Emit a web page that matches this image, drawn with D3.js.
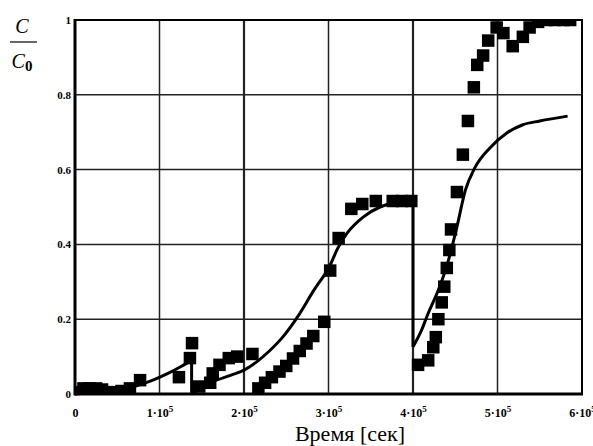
<!DOCTYPE html>
<html>
<head>
<meta charset="utf-8">
<script src="https://cdn.jsdelivr.net/npm/d3@7"></script>
<style>
body { margin: 0; background: #fff; }
svg { display: block; }
</style>
</head>
<body>
<svg id="chart" width="593" height="446"></svg>
<script>
// experiment (squares): time in seconds, C/C0
var expTime = [0.05e5, 0.1e5, 0.17e5, 0.25e5, 0.32e5, 0.45e5, 0.55e5, 0.65e5, 0.77e5, 1.23e5, 1.36e5, 1.385e5,
	1.47e5, 1.6e5, 1.63e5, 1.71e5, 1.82e5, 1.92e5, 2.1e5,
	2.17e5, 2.25e5, 2.33e5, 2.42e5, 2.5e5, 2.58e5, 2.66e5, 2.74e5, 2.82e5, 2.95e5,
	3.02e5, 3.12e5, 3.27e5, 3.4e5, 3.56e5, 3.76e5, 3.87e5, 3.98e5,
	4.06e5, 4.18e5, 4.24e5, 4.27e5, 4.3e5, 4.34e5, 4.37e5, 4.4e5, 4.43e5, 4.45e5, 4.52e5, 4.59e5,
	4.65e5, 4.72e5, 4.76e5, 4.83e5, 4.89e5, 4.99e5, 5.07e5, 5.18e5, 5.3e5, 5.38e5, 5.48e5,
	5.58e5, 5.68e5, 5.78e5, 5.86e5];
var expConc = [0.005, 0.015, 0.015, 0.015, 0.012, 0.005, 0.008, 0.015, 0.037, 0.045, 0.096, 0.136,
	0.02, 0.03, 0.055, 0.078, 0.096, 0.1, 0.107,
	0.015, 0.03, 0.045, 0.06, 0.075, 0.095, 0.115, 0.135, 0.155, 0.193,
	0.33, 0.417, 0.495, 0.508, 0.516, 0.516, 0.516, 0.516,
	0.078, 0.09, 0.125, 0.152, 0.2, 0.245, 0.287, 0.337, 0.385, 0.44, 0.54, 0.64,
	0.73, 0.82, 0.88, 0.905, 0.945, 0.98, 0.965, 0.93, 0.955, 0.98, 0.995,
	1.0, 1.0, 1.0, 1.0];

// model curve, three pieces with drops between them
var modelTime1 = [0, 0.2e5, 0.4e5, 0.7e5, 0.9e5, 1.1e5, 1.25e5, 1.38e5];
var modelConc1 = [0, 0.003, 0.008, 0.02, 0.035, 0.055, 0.073, 0.09];
var modelTime2 = [1.38e5, 1.6e5, 1.84e5, 2.0e5, 2.15e5, 2.3e5, 2.45e5, 2.63e5, 2.82e5, 3.02e5, 3.11e5, 3.22e5, 3.41e5, 3.61e5, 3.76e5, 4.0e5];
var modelConc2 = [0, 0.03, 0.05, 0.064, 0.086, 0.115, 0.15, 0.205, 0.275, 0.345, 0.39, 0.43, 0.473, 0.5, 0.51, 0.513];
var modelTime3 = [4.0e5, 4.1e5, 4.18e5, 4.3e5, 4.41e5, 4.52e5, 4.62e5, 4.73e5, 4.91e5, 5.11e5, 5.3e5, 5.5e5, 5.83e5];
var modelConc3 = [0.126, 0.17, 0.216, 0.278, 0.35, 0.447, 0.545, 0.604, 0.658, 0.698, 0.72, 0.73, 0.743];

var xTicks = [0, 1e5, 2e5, 3e5, 4e5, 5e5, 6e5];
var yTicks = [0, 0.2, 0.4, 0.6, 0.8, 1];

var plotL = 75, plotR = 582, plotT = 20, plotB = 394;

var x = d3.scaleLinear().domain([0, 6e5]).range([plotL, plotR]);
var y = d3.scaleLinear().domain([0, 1]).range([plotB, plotT]);

var svg = d3.select("#chart");

svg.append("defs").append("clipPath").attr("id", "plot")
	.append("rect")
	.attr("x", plotL).attr("y", plotT)
	.attr("width", plotR - plotL).attr("height", plotB - plotT);

// grid
svg.append("g").selectAll("line")
	.data(xTicks.slice(1, -1))
	.enter().append("line")
	.attr("x1", function(d) { return x(d); })
	.attr("x2", function(d) { return x(d); })
	.attr("y1", plotT).attr("y2", plotB)
	.attr("stroke", "#222")
	.attr("stroke-width", function(d) { return (d == 2e5 || d == 4e5) ? 2.2 : 1.5; });

svg.append("g").selectAll("line")
	.data(yTicks.slice(1, -1))
	.enter().append("line")
	.attr("x1", plotL).attr("x2", plotR)
	.attr("y1", function(d) { return y(d); })
	.attr("y2", function(d) { return y(d); })
	.attr("stroke", "#222")
	.attr("stroke-width", 1.5);

// squares
var sq = 12.5;
svg.append("g")
	.attr("clip-path", "url(#plot)")
	.selectAll("rect")
	.data(expTime)
	.enter().append("rect")
	.attr("x", function(d) { return x(d) - sq / 2; })
	.attr("y", function(d, i) { return y(expConc[i]) - sq / 2; })
	.attr("width", sq).attr("height", sq)
	.attr("fill", "#000");

// model line
var line = d3.line()
	.x(function(d) { return x(d[0]); })
	.y(function(d) { return y(d[1]); })
	.curve(d3.curveMonotoneX);

var pieces = [[modelTime1, modelConc1], [modelTime2, modelConc2], [modelTime3, modelConc3]];
pieces.forEach(function(p, k) {
	var pts = p[0].map(function(t, i) { return [t, p[1][i]]; });
	svg.append("path")
		.attr("d", line(pts))
		.attr("fill", "none")
		.attr("stroke", "#000")
		.attr("stroke-width", 3);
	if (k > 0) {
		var prev = pieces[k - 1];
		var n = prev[0].length - 1;
		svg.append("line")
			.attr("x1", x(prev[0][n])).attr("y1", y(prev[1][n]))
			.attr("x2", x(p[0][0])).attr("y2", y(p[1][0]))
			.attr("stroke", "#000")
			.attr("stroke-width", 3);
	}
});

// frame
svg.append("rect")
	.attr("x", plotL).attr("y", plotT)
	.attr("width", plotR - plotL).attr("height", plotB - plotT)
	.attr("fill", "none")
	.attr("stroke", "#000")
	.attr("stroke-width", 2);
svg.append("line").attr("x1", plotL).attr("x2", plotL).attr("y1", plotT - 1).attr("y2", plotB + 1.5)
	.attr("stroke", "#000").attr("stroke-width", 3);
svg.append("line").attr("x1", plotL).attr("x2", plotR + 1).attr("y1", plotB).attr("y2", plotB)
	.attr("stroke", "#000").attr("stroke-width", 3);

// axes labels
var yAxis = svg.append("g")
	.attr("transform", "translate(" + plotL + ",0)")
	.call(d3.axisLeft(y).tickValues(yTicks).tickSize(0).tickPadding(4).tickFormat(d3.format("")));
yAxis.select(".domain").remove();
yAxis.selectAll("text")
	.style("font-family", "'Liberation Serif', serif")
	.style("font-weight", "bold")
	.style("font-size", "11px")
	.attr("fill", "#000");

var xAxis = svg.append("g")
	.attr("transform", "translate(0," + plotB + ")")
	.call(d3.axisBottom(x).tickValues(xTicks).tickSize(0).tickPadding(14));
xAxis.select(".domain").remove();
xAxis.selectAll("text")
	.style("font-family", "'Liberation Serif', serif")
	.style("font-weight", "bold")
	.style("font-size", "12px")
	.attr("fill", "#000")
	.each(function(d) {
		var t = d3.select(this);
		t.text(null);
		if (d == 0) { t.text("0"); return; }
		t.append("tspan").text((d / 1e5) + "\u00b710");
		t.append("tspan").attr("dy", "-0.45em").style("font-size", "9px").text("5");
	});

// axis titles
svg.append("text")
	.attr("x", 350).attr("y", 441)
	.attr("text-anchor", "middle")
	.style("font-family", "'Liberation Serif', serif")
	.style("font-size", "22px")
	.text("Время [сек]");

var frac = svg.append("g").style("font-family", "'Liberation Serif', serif");
frac.append("text")
	.attr("x", 22).attr("y", 33)
	.attr("text-anchor", "middle")
	.style("font-size", "20px").style("font-style", "italic")
	.text("C");
frac.append("line")
	.attr("x1", 10).attr("x2", 37).attr("y1", 42).attr("y2", 42)
	.attr("stroke", "#000").attr("stroke-width", 1.2);
var den = frac.append("text")
	.attr("x", 22).attr("y", 68)
	.attr("text-anchor", "middle")
	.style("font-size", "20px");
den.append("tspan").style("font-style", "italic").text("C");
den.append("tspan").attr("dy", "3").style("font-size", "15px").style("font-weight", "bold").text("0");
</script>
</body>
</html>
